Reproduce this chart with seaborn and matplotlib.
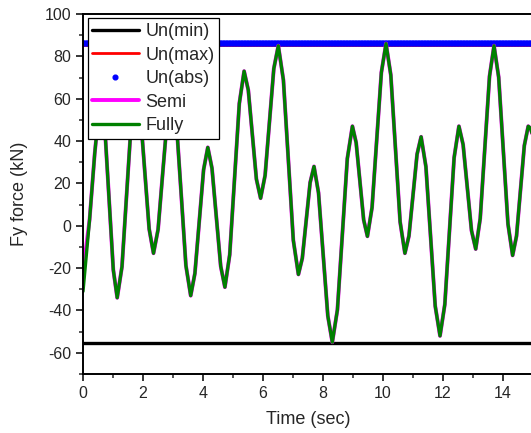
import numpy as np
import pandas as pd
import matplotlib
matplotlib.use('Agg')
import matplotlib.pyplot as plt
import seaborn as sns
from matplotlib.ticker import MultipleLocator

sns.set_style("ticks")
plt.rcParams['font.family'] = ['Liberation Sans', 'DejaVu Sans']
plt.rcParams['axes.unicode_minus'] = False

# Fy force time history
time_sec = [0.00, 0.22, 0.39, 0.50, 0.62, 0.75, 0.88, 1.01, 1.14, 1.30, 1.455, 1.61, 1.77,
            1.915, 2.06, 2.205, 2.35, 2.5025, 2.655, 2.81, 2.96, 3.1175, 3.275, 3.43, 3.59,
            3.73, 3.875, 4.02, 4.16, 4.30, 4.445, 4.59, 4.73, 4.89, 5.05, 5.21, 5.37,
            5.51, 5.645, 5.78, 5.92, 6.07, 6.215, 6.36, 6.51, 6.68, 6.845, 7.01, 7.18,
            7.31, 7.44, 7.57, 7.70, 7.85, 8.005, 8.16, 8.31, 8.48, 8.645, 8.81, 8.98,
            9.105, 9.23, 9.355, 9.48, 9.635, 9.79, 9.945, 10.10, 10.26, 10.415, 10.57, 10.73,
            10.865, 11.0, 11.135, 11.27, 11.43, 11.585, 11.74, 11.90, 12.06, 12.215, 12.37, 12.53,
            12.67, 12.81, 12.95, 13.09, 13.24, 13.395, 13.55, 13.70, 13.855, 14.01, 14.165, 14.32,
            14.45, 14.58, 14.71, 14.84, 14.92, 15.00]
fully_force = [-31, 3, 34, 50, 54, 40.8, 10, -20.8, -34, -19.3, 15, 49.3, 64,
               52.5, 25.5, -1.5, -13, -1.75, 24.5, 50.75, 62, 47.75, 14.5, -18.75, -33,
               -22.5, 2, 26.5, 37, 27.1, 4, -19.1, -29, -13.7, 22, 57.7, 73,
               64, 43, 22, 13, 23.8, 49, 74.2, 85, 68.8, 31, -6.8, -23,
               -15.35, 2.5, 20.35, 28, 15.55, -13.5, -42.55, -55, -39.7, -4, 31.7, 47,
               39.2, 21, 2.8, -5, 8.65, 40.5, 72.35, 86, 71.15, 36.5, 1.85, -13,
               -4.75, 14.5, 33.75, 42, 27.9, -5, -37.9, -52, -37.15, -2.5, 32.15, 47,
               38.3, 18, -2.3, -11, 3.4, 37, 70.6, 85, 70.15, 35.5, 0.85, -14,
               -4.85, 16.5, 37.85, 47, 46, 42]
semi_force = [-22] + fully_force[1:]

# uncontrolled envelope values (kN)
un_min = -55.5
un_max = 85.5
un_abs = 86.5
env_time = np.arange(0, 15.01, 0.05)

df = pd.DataFrame({'time': time_sec, 'Semi': semi_force, 'Fully': fully_force})

fig = plt.figure(figsize=(5.31, 4.33), dpi=100)
ax = fig.add_axes([0.1563, 0.1363, 0.8475, 0.8314])

ax.plot(env_time, np.full(len(env_time), un_min), color='black', lw=2.4, label='Un(min)')
ax.plot(env_time, np.full(len(env_time), un_max), color='red', lw=2, label='Un(max)')
ax.plot(env_time, np.full(len(env_time), un_abs), color='blue', lw=0,
        marker='o', ms=3.4, label='Un(abs)')
sns.lineplot(data=df, x='time', y='Semi', color='magenta', lw=2.8, ax=ax,
             estimator=None, sort=False, label='Semi')
sns.lineplot(data=df, x='time', y='Fully', color='green', lw=2.4, ax=ax,
             estimator=None, sort=False, label='Fully')

ax.set_xlim(0, 15)
ax.set_ylim(-70, 100)
ax.xaxis.set_major_locator(MultipleLocator(2))
ax.xaxis.set_minor_locator(MultipleLocator(1))
ax.yaxis.set_major_locator(MultipleLocator(20))
ax.yaxis.set_minor_locator(MultipleLocator(10))
ax.tick_params(which='major', direction='out', length=5, width=1.3, labelsize=11.5)
ax.tick_params(which='minor', direction='out', length=3, width=1.1)
for s in ax.spines.values():
    s.set_linewidth(1.4)
    s.set_color('black')
ax.spines['right'].set_visible(False)
ax.set_xlabel('Time (sec)', fontsize=13, labelpad=7)
ax.set_ylabel('Fy force (kN)', fontsize=13, labelpad=12)

leg = ax.legend(loc='upper left', fontsize=13, handlelength=2.6, handletextpad=0.35,
                labelspacing=0.36, borderpad=0.25, borderaxespad=0.25, fancybox=False,
                framealpha=1, edgecolor='black')
leg.get_frame().set_linewidth(0.9)

plt.savefig('out.png', dpi=100)
plt.close()
